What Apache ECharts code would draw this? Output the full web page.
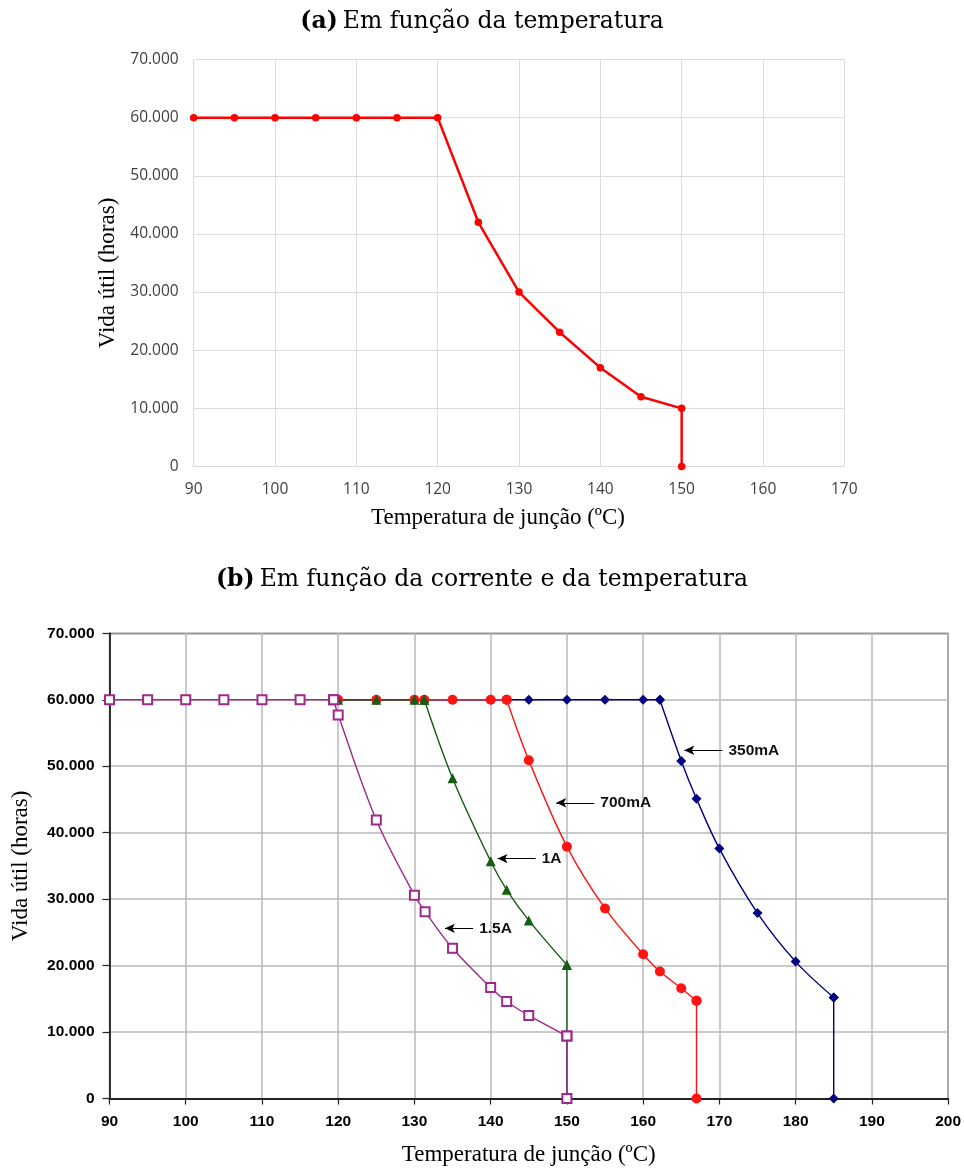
<!DOCTYPE html>
<html>
<head>
<meta charset="utf-8">
<script src="https://cdn.jsdelivr.net/npm/echarts@6/dist/echarts.min.js"></script>
<style>
html,body{margin:0;padding:0;background:#fff;}
#c{width:964px;height:1169px;}
</style>
</head>
<body>
<div id="c"></div>
<script>
// ---- Chart (a) data ----
const topX = [90, 95, 100, 105, 110, 115, 120, 125, 130, 135, 140, 145, 150, 150];
const topY = [60000, 60000, 60000, 60000, 60000, 60000, 60000, 42000, 30000, 23100, 17000, 12000, 10000, 0];

// ---- Chart (b) data ----
const s350X = [120, 125, 130, 135, 140, 145, 150, 155, 160, 162.2, 165, 167, 170, 175, 180, 185, 185];
const s350Y = [60000, 60000, 60000, 60000, 60000, 60000, 60000, 60000, 60000, 60000, 50800, 45100, 37600, 27900, 20600, 15200, 0];

const s700X = [120, 125, 130, 131.3, 135, 140, 142.1, 145, 150, 155, 160, 162.2, 165, 167, 167];
const s700Y = [60000, 60000, 60000, 60000, 60000, 60000, 60000, 50900, 37900, 28600, 21700, 19100, 16600, 14700, 0];

const s1AX = [120, 125, 130, 131.3, 135, 140, 142.1, 145, 150, 150];
const s1AY = [60000, 60000, 60000, 60000, 48200, 35700, 31400, 26800, 20100, 0];

const s15X = [90, 95, 100, 105, 110, 115, 119.4, 120, 125, 130, 131.4, 135, 140, 142.1, 145, 150, 150];
const s15Y = [60000, 60000, 60000, 60000, 60000, 60000, 60000, 57700, 41900, 30600, 28100, 22600, 16700, 14600, 12500, 9400, 0];

// annotation arrows (tail -> head, in data units)
const annText = ['350mA', '700mA', '1A', '1.5A'];
const annTail = [[170.4, 52400], [153.6, 44500], [145.9, 36100], [137.7, 25600]];
const annHead = [[165.4, 52400], [148.6, 44500], [140.9, 36100], [134.0, 25600]];

// tick settings
const xTicksTop = [90, 170, 10];
const xTicksBottom = [90, 200, 10];
const yTicks = [0, 70000, 10000];

function pairs(xs, ys) { return xs.map((x, i) => [x, ys[i]]); }
function yFmt(v) { return v === 0 ? '0' : (v / 1000).toFixed(0) + '.000'; }

const chart = echarts.init(document.getElementById('c'), null, {renderer: 'canvas'});

const serif = 'Liberation Serif';
const titleSerif = 'DejaVu Serif';

const curves = [
  {name: '350mA', xs: s350X, ys: s350Y, color: '#000080', symbol: 'diamond', size: 10},
  {name: '700mA', xs: s700X, ys: s700Y, color: '#ff1414', symbol: 'circle', size: 10},
  {name: '1A', xs: s1AX, ys: s1AY, color: '#135e13', symbol: 'triangle', size: 10},
  {name: '1.5A', xs: s15X, ys: s15Y, color: '#9c2a8c', symbol: 'emptyRect', size: 9}
];

const series = [];
series.push({
  type: 'line', xAxisIndex: 0, yAxisIndex: 0,
  data: pairs(topX, topY),
  symbol: 'circle', symbolSize: 7.5,
  lineStyle: {color: '#ff0000', width: 2.5},
  itemStyle: {color: '#ff0000'},
  silent: true
});

curves.forEach((c) => {
  const all = pairs(c.xs, c.ys);
  const n = all.length;
  const maxY = Math.max.apply(null, c.ys);
  let lastFlat = 0;
  c.ys.forEach((y, i) => { if (y === maxY) lastFlat = i; });
  const style = {
    type: 'line', xAxisIndex: 1, yAxisIndex: 1,
    symbol: c.symbol, symbolSize: c.size,
    lineStyle: {color: c.color, width: 1.4},
    itemStyle: {color: c.color, borderWidth: c.symbol === 'emptyRect' ? 1.2 : 0},
    silent: true
  };
  // flat plateau (straight)
  series.push(Object.assign({}, style, {name: c.name + '-flat', data: all.slice(0, lastFlat + 1), smooth: false}));
  // decreasing curve (smoothed)
  series.push(Object.assign({}, style, {name: c.name, data: all.slice(lastFlat, n - 1), smooth: 0.35}));
  // vertical drop to zero (straight)
  series.push(Object.assign({}, style, {name: c.name + '-drop', data: all.slice(n - 2), smooth: false}));
});

// annotations as markLine on an empty helper series
series.push({
  type: 'line', xAxisIndex: 1, yAxisIndex: 1, data: [], silent: true,
  markLine: {
    silent: true, animation: false,
    lineStyle: {color: '#000', width: 1, type: 'solid'},
    label: {
      show: true, position: 'start', distance: 6, formatter: '{b}',
      fontFamily: 'Liberation Sans', fontWeight: 'bold', fontSize: 15.5, color: '#111'
    },
    emphasis: {disabled: true},
    data: annText.map((t, i) => [
      {name: t, coord: annTail[i], symbol: 'none', symbolSize: 1},
      {coord: annHead[i], symbol: 'arrow', symbolSize: [7, 10]}
    ])
  }
});

const option = {
  animation: false,
  backgroundColor: '#fff',
  title: [
    {
      text: '{b|(a)} {n|Em função da temperatura}',
      left: 'center', top: 5,
      textStyle: {fontWeight: 'normal', rich: {
        b: {fontFamily: titleSerif, fontWeight: 'bold', fontSize: 23.5, color: '#000'},
        n: {fontFamily: titleSerif, fontWeight: 'normal', fontSize: 23.5, color: '#000'}
      }}
    },
    {
      text: '{b|(b)} {n|Em função da corrente e da temperatura}',
      left: 'center', top: 563,
      textStyle: {fontWeight: 'normal', rich: {
        b: {fontFamily: titleSerif, fontWeight: 'bold', fontSize: 23.5, color: '#000'},
        n: {fontFamily: titleSerif, fontWeight: 'normal', fontSize: 23.5, color: '#000'}
      }}
    }
  ],
  grid: [
    {left: 193.7, right: 119.7, top: 59.5, height: 407, containLabel: false},
    {left: 109.5, right: 15, top: 633.3, height: 465.2, containLabel: false,
     show: true, borderColor: '#333', borderWidth: 1.2, backgroundColor: 'transparent'}
  ],
  xAxis: [
    {
      type: 'value', gridIndex: 0, min: xTicksTop[0], max: xTicksTop[1], interval: xTicksTop[2],
      name: 'Temperatura de junção (ºC)', nameLocation: 'middle', nameGap: 40,
      nameTextStyle: {fontFamily: serif, fontSize: 23, color: '#000', padding: [0, 42, 0, 0]},
      axisLine: {show: true, lineStyle: {color: '#d9d9d9', width: 1}},
      axisTick: {show: false},
      axisLabel: {margin: 15, fontFamily: 'Open Sans', fontSize: 15.5, color: '#404040'},
      splitLine: {show: true, lineStyle: {color: '#dcdcdc', width: 1}}
    },
    {
      type: 'value', gridIndex: 1, min: xTicksBottom[0], max: xTicksBottom[1], interval: xTicksBottom[2],
      name: 'Temperatura de junção (ºC)', nameLocation: 'middle', nameGap: 45,
      nameTextStyle: {fontFamily: serif, fontSize: 23, color: '#000'},
      axisLine: {show: true, onZero: false, lineStyle: {color: '#222', width: 1.8}},
      axisTick: {show: true, length: 6, lineStyle: {color: '#222', width: 1.2}},
      axisLabel: {margin: 15, fontFamily: 'Liberation Sans', fontWeight: 'bold', fontSize: 15.5, color: '#000'},
      splitLine: {show: true, lineStyle: {color: '#b8b8b8', width: 1.5}}
    }
  ],
  yAxis: [
    {
      type: 'value', gridIndex: 0, min: yTicks[0], max: yTicks[1], interval: yTicks[2],
      name: 'Vida útil (horas)', nameLocation: 'middle', nameGap: 72,
      nameTextStyle: {fontFamily: serif, fontSize: 23, color: '#000', padding: [0, 20, 0, 0]},
      axisLine: {show: false}, axisTick: {show: false},
      axisLabel: {margin: 15, fontFamily: 'Open Sans', fontSize: 15.5, color: '#404040', formatter: yFmt},
      splitLine: {show: true, lineStyle: {color: '#dcdcdc', width: 1}}
    },
    {
      type: 'value', gridIndex: 1, min: yTicks[0], max: yTicks[1], interval: yTicks[2],
      name: 'Vida útil (horas)', nameLocation: 'middle', nameGap: 77,
      nameTextStyle: {fontFamily: serif, fontSize: 23, color: '#000'},
      axisLine: {show: true, onZero: false, lineStyle: {color: '#222', width: 1.8}},
      axisTick: {show: true, length: 7, lineStyle: {color: '#222', width: 1.2}},
      axisLabel: {margin: 15, fontFamily: 'Liberation Sans', fontWeight: 'bold', fontSize: 15.5, color: '#000', formatter: yFmt},
      splitLine: {show: true, lineStyle: {color: '#b8b8b8', width: 1.5}}
    }
  ],
  series: series
};

chart.setOption(option);
</script>
</body>
</html>
